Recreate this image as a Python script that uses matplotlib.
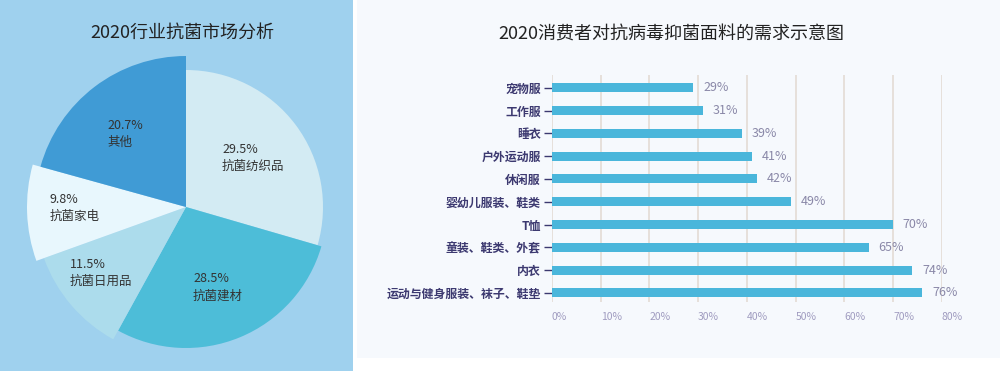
import matplotlib.pyplot as plt
from matplotlib.patches import Rectangle

plt.rcParams['font.family'] = ['Noto Sans CJK SC', 'DejaVu Sans']

# pie data (clockwise from 12 o'clock)
pie_names = ['抗菌纺织品', '抗菌建材', '抗菌日用品', '抗菌家电', '其他']
pie_shares = [29.5, 28.5, 11.5, 9.8, 20.7]

# bar data (top to bottom)
bar_names = ['宠物服', '工作服', '睡衣', '户外运动服', '休闲服', '婴幼儿服装、鞋类',
             'T恤', '童装、鞋类、外套', '内衣', '运动与健身服装、袜子、鞋垫']
bar_values = [29, 31, 39, 41, 42, 49, 70, 65, 74, 76]
x_ticks = [0, 10, 20, 30, 40, 50, 60, 70, 80]

# styles / layout
pie_colors = ['#d3ebf3', '#4dbdd8', '#acdcec', '#e8f7fd', '#409bd5']
pie_radii = [137, 141, 151, 159, 151]
# label anchors in pixels (x from left, y from top)
label_pos = [(222, 158), (193, 287), (70, 273), (50, 208), (107, 134)]

W, H = 1000, 371
fig = plt.figure(figsize=(10, 3.71), dpi=100, facecolor='white')

# panel backgrounds
fig.add_artist(Rectangle((0, 0), 353 / W, 1, transform=fig.transFigure,
                         facecolor='#9fd1ee', edgecolor='none', zorder=-2))
fig.add_artist(Rectangle((357 / W, (H - 358) / H), 1 - 357 / W, 358 / H,
                         transform=fig.transFigure, facecolor='#f6f9fd',
                         edgecolor='none', zorder=-2))

# ---- left: pie ----
ax = fig.add_axes([0, 0, 353 / W, 1])
wedges, _ = ax.pie(pie_shares, colors=pie_colors, startangle=90, counterclock=False,
                   center=(186, H - 207), radius=150, wedgeprops=dict(linewidth=0))
# slices have slightly different radii in the original
for w, r in zip(wedges, pie_radii):
    w.set_radius(r)
ax.set_xlim(0, 353)
ax.set_ylim(0, H)
ax.set_aspect('equal')
ax.axis('off')

for (lx, ly), name, share in zip(label_pos, pie_names, pie_shares):
    ax.text(lx, H - ly, f"{share}%\n{name}", ha='left', va='center',
            fontsize=9, color='#333333', linespacing=1.45)

fig.text(182 / W, 1 - 33 / H, '2020行业抗菌市场分析', ha='center', va='center',
         fontsize=13, color='#222222', fontweight='medium')

# ---- right: bars ----
ax2 = fig.add_axes([552 / W, (H - 302) / H, (941.7 - 552) / W, 227 / H])
ax2.patch.set_visible(False)
pos = list(range(len(bar_names)))
ax2.barh(pos, bar_values, height=0.4, color='#4ab6db', zorder=3)
ax2.set_xlim(0, 80)
ax2.set_ylim(9.4, -0.56)
ax2.set_yticks(pos)
ax2.set_yticklabels(bar_names, fontsize=8.6, color='#3c3970', fontweight='bold')
ax2.set_xticks(x_ticks)
ax2.set_xticklabels([f"{t}%" for t in x_ticks], ha='left', fontsize=7.5, color='#a09cc0')
ax2.tick_params(axis='y', length=6, width=1, color='#3c3970', pad=2)
ax2.tick_params(axis='x', length=0, pad=7)
ax2.grid(axis='x', color='#e3dcd5', linewidth=1.2, zorder=0)
for s in ax2.spines.values():
    s.set_visible(False)

for p, v in zip(pos, bar_values):
    ax2.text(v + 2, p, f"{v}%", va='center', ha='left', fontsize=9, color='#8a88a8')

fig.text(671 / W, 1 - 35 / H, '2020消费者对抗病毒抑菌面料的需求示意图', ha='center',
         va='center', fontsize=13, color='#222222', fontweight='medium')

fig.savefig('out.png', dpi=100, facecolor='white')
